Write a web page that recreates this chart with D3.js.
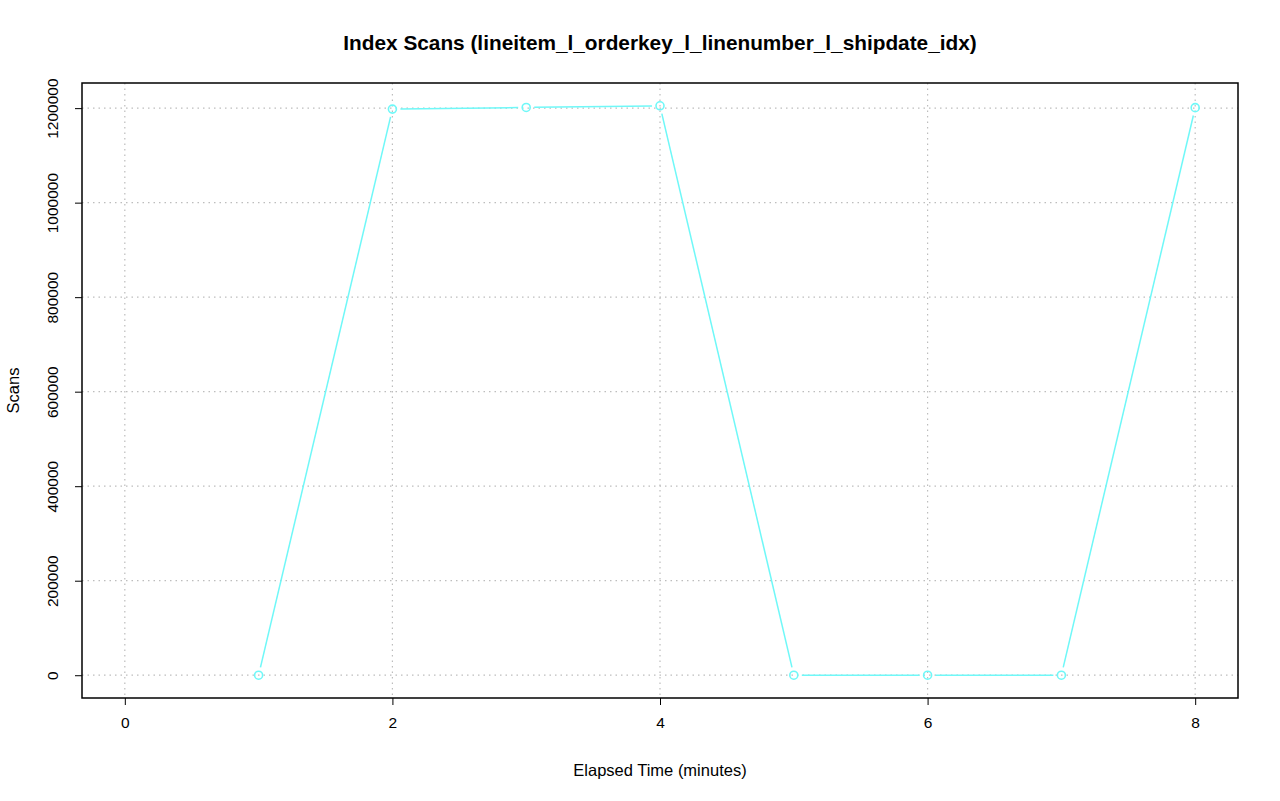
<!DOCTYPE html>
<html>
<head>
<meta charset="utf-8">
<script src="https://cdn.jsdelivr.net/npm/d3@7"></script>
<style>
  body { margin: 0; background: #fff; }
  text { font-family: "Liberation Sans", Arial, sans-serif; }
</style>
</head>
<body>
<svg id="chart" width="1280" height="801"></svg>
<script>
// values
const minutes = [1, 2, 3, 4, 5, 6, 7, 8];
const scans = [0, 1198000, 1201500, 1205000, 0, 0, 0, 1201000];
const xTicks = [0, 2, 4, 6, 8];
const yTicks = [0, 200000, 400000, 600000, 800000, 1000000, 1200000];

const svg = d3.select("#chart");
const box = { left: 82, right: 1238, top: 83, bottom: 698 };

// R style 4% padding on both ends
function padded(lo, hi) {
    const d = (hi - lo) * 0.04;
    return [lo - d, hi + d];
}

const x = d3.scaleLinear().domain(padded(0, 8)).range([box.left, box.right]);
const y = d3.scaleLinear().domain(padded(0, d3.max(scans))).range([box.bottom, box.top]);

// grid
const grid = svg.append("g").attr("stroke", "#bdbdbd").attr("stroke-width", 1.2).attr("stroke-dasharray", "1.5,4");
grid.selectAll("line.gx").data(xTicks).enter().append("line")
    .attr("x1", d => x(d)).attr("x2", d => x(d))
    .attr("y1", box.top).attr("y2", box.bottom);
grid.selectAll("line.gy").data(yTicks).enter().append("line")
    .attr("y1", d => y(d)).attr("y2", d => y(d))
    .attr("x1", box.left).attr("x2", box.right);

// axes
const xAxis = d3.axisBottom(x).tickValues(xTicks).tickSize(7).tickPadding(12);
const yAxis = d3.axisLeft(y).tickValues(yTicks).tickSize(7).tickFormat(d3.format("d"));

const gx = svg.append("g").attr("transform", `translate(0,${box.bottom})`).call(xAxis);
gx.select(".domain").remove();
gx.selectAll("text").attr("font-size", 15.5).attr("fill", "#000");
gx.selectAll("line").attr("stroke", "#000");

const gy = svg.append("g").attr("transform", `translate(${box.left},0)`).call(yAxis);
gy.select(".domain").remove();
gy.selectAll("line").attr("stroke", "#000");
gy.selectAll("text")
    .attr("font-size", 15.5).attr("fill", "#000")
    .attr("text-anchor", "middle").attr("dy", null)
    .attr("x", 0).attr("y", 0)
    .attr("transform", "translate(-28,0) rotate(-90)")
    .attr("dominant-baseline", "middle");

// box
svg.append("rect")
    .attr("x", box.left).attr("y", box.top)
    .attr("width", box.right - box.left).attr("height", box.bottom - box.top)
    .attr("fill", "none").attr("stroke", "#000").attr("stroke-width", 1.5);

// line with gaps around points (type = "b")
const color = "#6ff8f8";
const pts = minutes.map((m, i) => [x(m), y(scans[i])]);
const gap = 8;
const segs = [];
for (let i = 0; i < pts.length - 1; i++) {
    const [x1, y1] = pts[i], [x2, y2] = pts[i + 1];
    const len = Math.hypot(x2 - x1, y2 - y1);
    if (len <= 2 * gap) continue;
    const ux = (x2 - x1) / len, uy = (y2 - y1) / len;
    segs.push([x1 + ux * gap, y1 + uy * gap, x2 - ux * gap, y2 - uy * gap]);
}
svg.append("g").selectAll("line").data(segs).enter().append("line")
    .attr("x1", d => d[0]).attr("y1", d => d[1])
    .attr("x2", d => d[2]).attr("y2", d => d[3])
    .attr("stroke", color).attr("stroke-width", 1.5);

svg.append("g").selectAll("circle").data(pts).enter().append("circle")
    .attr("cx", d => d[0]).attr("cy", d => d[1]).attr("r", 4)
    .attr("fill", "none").attr("stroke", color).attr("stroke-width", 1.6);

// titles
svg.append("text").attr("x", (box.left + box.right) / 2).attr("y", 50)
    .attr("text-anchor", "middle").attr("font-size", 20.8).attr("font-weight", "bold")
    .text("Index Scans (lineitem_l_orderkey_l_linenumber_l_shipdate_idx)");
svg.append("text").attr("x", (box.left + box.right) / 2).attr("y", 776)
    .attr("text-anchor", "middle").attr("font-size", 16.5)
    .text("Elapsed Time (minutes)");
svg.append("text")
    .attr("transform", `translate(19,${(box.top + box.bottom) / 2}) rotate(-90)`)
    .attr("text-anchor", "middle").attr("font-size", 16.5)
    .text("Scans");
</script>
</body>
</html>
